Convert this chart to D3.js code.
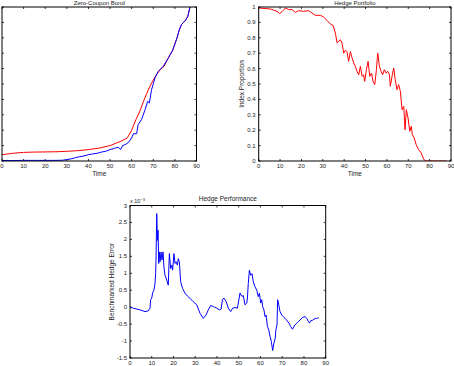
<!DOCTYPE html>
<html><head><meta charset="utf-8">
<script src="https://cdn.jsdelivr.net/npm/d3@7"></script>
<style>
body{margin:0;background:#fff;}
svg{display:block;}
text{font-family:"Liberation Sans",Arial,sans-serif;fill:#222;}
</style></head>
<body>
<script>
// ---------- data ----------
const xTicks = [0,10,20,30,40,50,60,70,80,90];
const bondYTicks = [0,0.1,0.2,0.3,0.4,0.5,0.6,0.7,0.8,0.9,1];
const portYTicks = [0,0.1,0.2,0.3,0.4,0.5,0.6,0.7,0.8,0.9,1];
const perfYTicks = [-1.5,-1,-0.5,0,0.5,1,1.5,2,2.5,3];

// Zero-Coupon Bond: red (model) and blue (hedge)
const bondRedT = [0,5,10,15,20,25,30,35,40,45,50,53,55,58,59,60,62,64,65,67,69,71,73,75,77,79,81,82,83,84,85,86,87,88];
const bondRedV = [0.041,0.05,0.056,0.058,0.059,0.060,0.063,0.067,0.074,0.084,0.100,0.117,0.128,0.15,0.175,0.2,0.27,0.33,0.37,0.44,0.50,0.55,0.59,0.615,0.67,0.72,0.80,0.85,0.885,0.90,0.915,0.94,1.0,1.08];
const bondBlueT = [0,5,10,15,20,25,28,30,32,34,36,38,40,42,44,46,48,50,52,53.8,54.9,55.8,57,58.5,60,60.8,62.3,63,64.6,66.2,67.4,68.2,69.2,70.8,72.3,74.6,77,79,81,82,83,84,85,86,87,88];
const bondBlueV = [0.003,0.003,0.004,0.004,0.004,0.004,0.005,0.009,0.014,0.022,0.028,0.033,0.041,0.046,0.050,0.058,0.063,0.074,0.082,0.09,0.074,0.1,0.106,0.12,0.15,0.177,0.177,0.236,0.27,0.333,0.387,0.377,0.463,0.54,0.582,0.615,0.67,0.72,0.80,0.85,0.885,0.90,0.915,0.94,1.0,1.08];

// Hedge Portfolio: index proportion
const portT = [0,3,5.5,8.6,9.8,10.9,12.5,14,15.6,17.2,18.7,21,23.4,25,26.5,28.9,30.4,32,33.5,34.8,35.9,36.7,37.4,38.2,39,39.8,40.6,41.3,42.1,42.9,43.7,44.5,45.2,46,46.8,47.6,48.4,49.1,49.6,50.4,51.2,52,52.8,53.5,54.3,55.1,55.7,56.5,57.3,58,58.8,59.6,60.4,61.2,61.6,62.4,63.2,63.9,64.7,65.5,66.3,67.1,67.9,68.5,69.1,69.9,70.7,71.4,71.9,72.8,73.7,74.8,75.9,77.2,78,80,84,88];
const portV = [0.994,0.99,0.987,0.972,0.957,0.97,0.994,0.983,0.983,0.965,0.976,0.972,0.976,0.96,0.946,0.946,0.935,0.913,0.89,0.88,0.83,0.766,0.777,0.788,0.766,0.70,0.72,0.71,0.647,0.71,0.669,0.636,0.615,0.582,0.56,0.615,0.55,0.56,0.517,0.593,0.647,0.55,0.571,0.517,0.496,0.593,0.70,0.615,0.582,0.56,0.593,0.571,0.582,0.56,0.485,0.55,0.604,0.528,0.463,0.496,0.452,0.333,0.355,0.203,0.333,0.279,0.193,0.225,0.171,0.149,0.106,0.074,0.056,0.013,0,0,0,0];

// Hedge Performance: benchmarked hedge error (x 10^-3)
const perfT = [0,1.5,4.6,6.9,8.4,9.2,9.5,10,10.4,11,11.5,11.8,12,12.3,12.6,12.9,13.2,13.5,13.8,14.3,14.7,15.2,15.6,16.1,16.9,17.6,18.1,18.7,19.2,19.6,20.2,20.7,21.2,21.8,22.2,22.7,23.3,24.2,25.3,26.4,27.6,29.1,30.7,32.2,33.7,35,36,37.1,38.3,39.9,41.1,41.9,42.5,43.2,44.2,45.2,46.3,47.2,48.3,49.4,49.8,50.6,51.4,52.1,52.9,53.7,54,54.4,54.9,55.5,56.1,56.7,57.5,58.3,59,59.5,60.1,60.6,61,61.6,62.1,62.6,63.2,63.8,64.4,65,65.6,66.2,66.8,67.1,67.6,67.9,68.4,69,69.8,70.5,71.3,72,73.1,73.9,74.7,75.9,77,78.2,79.4,80.5,81.3,82,82.5,83.1,83.9,84.6,85.8,86.8];
const perfV = [0,-0.03,-0.08,-0.13,-0.11,-0.03,0.22,0.27,0.42,0.5,0.7,1.0,1.48,2.76,1.97,2.27,1.29,1.63,1.34,1.63,1.39,1.63,1.19,0.94,0.8,0.65,1.58,1.14,1.24,1.09,1.58,1.29,1.34,1.24,1.43,1.34,0.75,0.55,0.41,0.33,0.26,0.16,0.07,-0.18,-0.33,-0.23,-0.08,0.05,0.02,-0.03,-0.08,-0.06,0.22,0.27,0.17,-0.03,-0.13,-0.03,-0.01,-0.03,0.12,0.42,0.32,0.34,0.07,0.12,0.27,0.7,1.09,0.94,0.99,0.75,0.6,0.5,0.31,0.41,0.12,0.22,0.02,-0.08,-0.28,-0.23,-0.57,-0.67,-0.86,-1.01,-1.28,-1.06,-0.91,-0.67,-0.52,0.22,0.07,-0.13,-0.23,-0.28,-0.33,-0.38,-0.47,-0.57,-0.65,-0.52,-0.45,-0.38,-0.3,-0.28,-0.33,-0.42,-0.47,-0.4,-0.39,-0.35,-0.33,-0.31];

// ---------- drawing ----------
const W = 454, H = 366;
const svg = d3.select("body").append("svg").attr("width", W).attr("height", H);
const FS = 6;

function panel(cfg){
  const {id,left,right,top,bottom,xDomain,yDomain,xT,yT,showYLabels,yFmt,title,titleY,titleFS,xlabel,ylabel,ylabelX,series,xLabY} = cfg;
  const x = d3.scaleLinear().domain(xDomain).range([left,right]);
  const y = d3.scaleLinear().domain(yDomain).range([bottom,top]);
  const g = svg.append("g");
  g.append("clipPath").attr("id","clip"+id).append("rect")
    .attr("x",left).attr("y",top).attr("width",right-left).attr("height",bottom-top);
  const tl = 2;
  // ticks inside, all four sides
  const tk = g.append("g").attr("stroke","#000").attr("stroke-width",0.8);
  xT.forEach(t=>{
    tk.append("line").attr("x1",x(t)).attr("x2",x(t)).attr("y1",bottom).attr("y2",bottom-tl);
    tk.append("line").attr("x1",x(t)).attr("x2",x(t)).attr("y1",top).attr("y2",top+tl);
  });
  yT.forEach(t=>{
    tk.append("line").attr("x1",left).attr("x2",left+tl).attr("y1",y(t)).attr("y2",y(t));
    tk.append("line").attr("x1",right).attr("x2",right-tl).attr("y1",y(t)).attr("y2",y(t));
  });
  // series
  const line = d3.line().x(d=>x(d[0])).y(d=>y(d[1]));
  series.forEach(s=>{
    g.append("path").datum(d3.zip(s.t,s.v)).attr("d",line)
      .attr("fill","none").attr("stroke",s.color).attr("stroke-width",1)
      .attr("stroke-linejoin","round").attr("clip-path","url(#clip"+id+")");
  });
  // box
  g.append("rect").attr("x",left).attr("y",top).attr("width",right-left).attr("height",bottom-top)
    .attr("fill","none").attr("stroke","#000").attr("stroke-width",1);
  // x tick labels
  xT.forEach(t=>{
    g.append("text").attr("x",x(t)).attr("y",xLabY).attr("text-anchor","middle")
      .attr("font-size",FS).text(t);
  });
  if(showYLabels){
    yT.forEach(t=>{
      g.append("text").attr("x",left-3).attr("y",y(t)+2).attr("text-anchor","end")
        .attr("font-size",FS).text(yFmt(t));
    });
  }
  g.append("text").attr("x",(left+right)/2).attr("y",titleY).attr("text-anchor","middle")
    .attr("font-size",titleFS||6.5).text(title);
  if(xlabel) g.append("text").attr("x",(left+right)/2).attr("y",xLabY+7.5).attr("text-anchor","middle")
    .attr("font-size",6.5).text(xlabel);
  if(ylabel) g.append("text").attr("transform",`translate(${ylabelX},${(top+bottom)/2}) rotate(-90)`)
    .attr("text-anchor","middle").attr("font-size",6.5).text(ylabel);
  return {x,y,g};
}

panel({id:1,left:2,right:196.5,top:7,bottom:161,xDomain:[0,90],yDomain:[0,1],xT:xTicks,yT:bondYTicks,
  showYLabels:false,title:"Zero-Coupon Bond",titleY:5,titleFS:6,xlabel:"Time",xLabY:168,
  series:[{t:bondRedT,v:bondRedV,color:"#ff0000"},{t:bondBlueT,v:bondBlueV,color:"#0000ff"}]});

panel({id:2,left:258.7,right:451,top:7,bottom:161,xDomain:[0,90],yDomain:[0,1],xT:xTicks,yT:portYTicks,
  showYLabels:true,yFmt:d=>String(d),title:"Hedge Portfolio",titleY:5,titleFS:6,xlabel:"Time",xLabY:168,
  ylabel:"Index Proportion",ylabelX:244,
  series:[{t:portT,v:portV,color:"#ff0000"}]});

const p3 = panel({id:3,left:130,right:325.7,top:205.5,bottom:358,xDomain:[0,90],yDomain:[-1.5,3],xT:xTicks,yT:perfYTicks,
  showYLabels:true,yFmt:d=>String(d),title:"Hedge Performance",titleY:201,xlabel:null,xLabY:365,
  ylabel:"Benchmarked Hedge Error",ylabelX:113.5,
  series:[{t:perfT,v:perfV,color:"#0000ff"}]});

const mult = p3.g.append("text").attr("x",130).attr("y",203).attr("font-size",5.5);
mult.append("tspan").text("x 10");
mult.append("tspan").attr("dy",-2.5).attr("font-size",4).text("−3");
</script>
</body></html>
